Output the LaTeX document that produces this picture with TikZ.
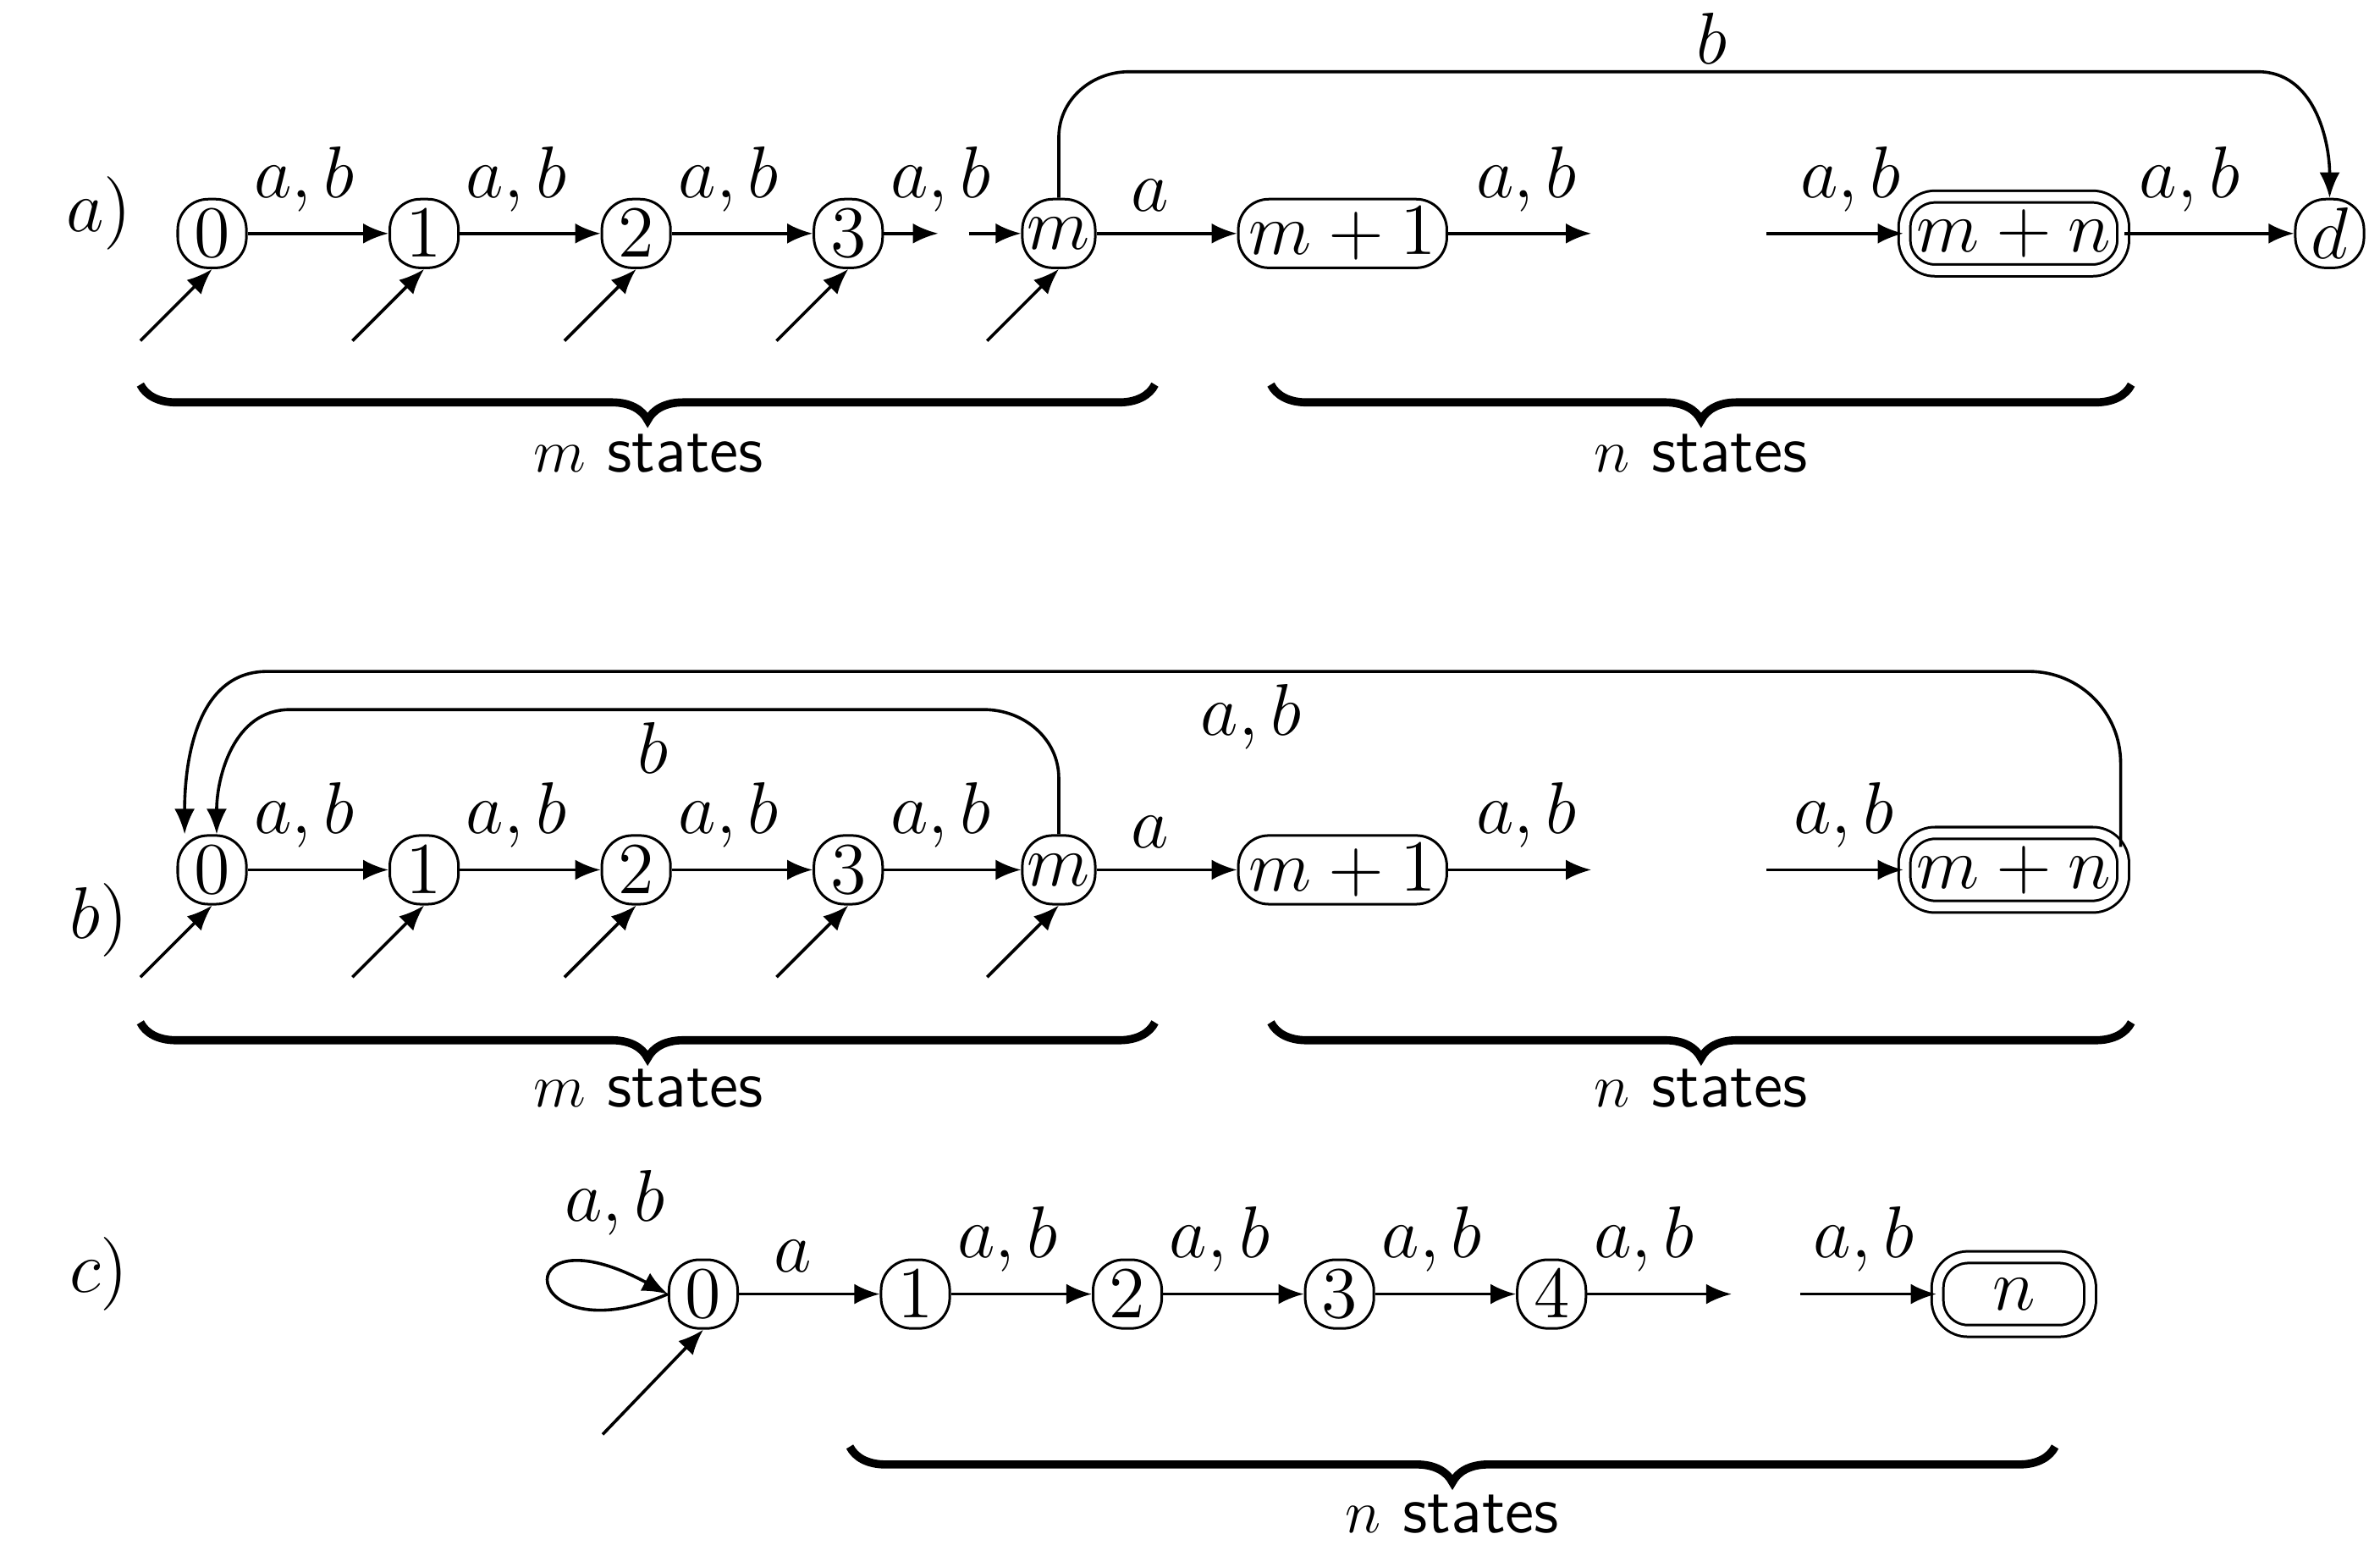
\documentclass[tikz,border=0pt]{standalone}
\usetikzlibrary{arrows.meta,decorations.pathreplacing,calc}
\begin{document}
\begin{tikzpicture}[x=0.3pt,y=-0.3pt,
  every node/.style={font=\fontsize{14}{16}\selectfont},
  st/.style={draw,rectangle,rounded corners=6pt,minimum height=13.5pt,minimum width=13.5pt,inner sep=1pt,line width=0.5pt},
  wide/.style={st,minimum width=41pt},
  acc/.style={st,double,double distance=1.8pt,minimum width=43pt,minimum height=14.5pt},
  tr/.style={-{Latex[length=5pt,width=4pt]},line width=0.6pt},
  lab/.style={anchor=south west,inner sep=1pt,yshift=3pt},
  br/.style={decorate,decoration={brace,mirror,amplitude=7pt},line width=1.6pt},
  sl/.style={font=\fontsize{13}{15}\selectfont\sffamily}]
\useasboundingbox (0,0) rectangle (1560,1012);
% ---- a
\node at (65,140) {$a)$};
\foreach \n/\x in {0/139,1/278,2/417,3/556}{\node[st] (a\n) at (\x,153) {$\n$};}
\node[st] (am) at (694,153) {$m$};
\node[wide] (am1) at (880,153) {$m+1$};
\node[acc] (amn) at (1320,153) {$m+n$};
\node[st] (ad) at (1527,153) {$d$};
\coordinate (ae1) at (615,153); \coordinate (as1) at (635,153);
\coordinate (ae2) at (1043,153); \coordinate (as2) at (1158,153);
\draw[tr] (a0) -- node[lab,pos=0]{$a,b$} (a1);
\draw[tr] (a1) -- node[lab,pos=0]{$a,b$} (a2);
\draw[tr] (a2) -- node[lab,pos=0]{$a,b$} (a3);
\draw[tr] (a3) -- node[lab,pos=0]{$a,b$} (ae1);
\draw[tr] (as1) -- (am);
\draw[tr] (am) -- node[lab,pos=0.2]{$a$} (am1);
\draw[tr] (am1) -- node[lab,pos=0.15]{$a,b$} (ae2);
\draw[tr] (as2) -- node[lab,pos=0.2]{$a,b$} (amn);
\draw[tr] (amn) -- node[lab,pos=0.05]{$a,b$} (ad);
\draw[tr] (am.north) -- (694,90) to[out=90,in=180] (740,47) -- (1480,47) to[out=0,in=90] (ad.north);
\node at (1122,25) {$b$};
\foreach \n in {0,1,2,3,m}{\draw[tr] ($(a\n.south)+(-47,47)$) -- (a\n.south);}
\draw[br] (92,252) -- (757,252);
\node[sl] at (425,297) {$m$ states};
\draw[br] (833,252) -- (1397,252);
\node[sl] at (1115,297) {$n$ states};
% ---- b
\node at (65,603) {$b)$};
\foreach \n/\x in {0/139,1/278,2/417,3/556}{\node[st] (b\n) at (\x,570) {$\n$};}
\node[st] (bm) at (694,570) {$m$};
\node[wide] (bm1) at (880,570) {$m+1$};
\node[acc] (bmn) at (1320,570) {$m+n$};
\coordinate (be2) at (1043,570); \coordinate (bs2) at (1158,570);
\coordinate (bst) at (1390,555);
\draw[tr] (b0) -- node[lab,pos=0]{$a,b$} (b1);
\draw[tr] (b1) -- node[lab,pos=0]{$a,b$} (b2);
\draw[tr] (b2) -- node[lab,pos=0]{$a,b$} (b3);
\draw[tr] (b3) -- node[lab,pos=0]{$a,b$} (bm);
\draw[tr] (bm) -- node[lab,pos=0.2]{$a$} (bm1);
\draw[tr] (bm1) -- node[lab,pos=0.15]{$a,b$} (be2);
\draw[tr] (bs2) -- node[lab,pos=0.15]{$a,b$} (bmn);
\draw[tr] (bm.north) -- (694,510) to[out=90,in=0] (645,465) -- (190,465) to[out=180,in=90] ($(b0.north)+(3,0)$);
\node at (428,490) {$b$};
\draw[tr] (bst) -- (1390,500) to[out=90,in=0] (1330,440) -- (175,440) to[out=180,in=90] ($(b0.north)+(-18,0)$);
\node at (820,470) {$a,b$};
\foreach \n in {0,1,2,3,m}{\draw[tr] ($(b\n.south)+(-47,47)$) -- (b\n.south);}
\draw[br] (92,670) -- (757,670);
\node[sl] at (425,713) {$m$ states};
\draw[br] (833,670) -- (1397,670);
\node[sl] at (1115,713) {$n$ states};
% ---- c
\node at (65,835) {$c)$};
\foreach \n/\x in {0/461,1/600,2/739,3/878,4/1017}{\node[st] (c\n) at (\x,848) {$\n$};}
\node[acc,minimum width=30pt] (cn) at (1320,848) {$n$};
\coordinate (ce) at (1135,848); \coordinate (cs) at (1180,848);
\draw[tr] (c0) -- node[lab,pos=0.2]{$a$} (c1);
\draw[tr] (c1) -- node[lab,pos=0]{$a,b$} (c2);
\draw[tr] (c2) -- node[lab,pos=0]{$a,b$} (c3);
\draw[tr] (c3) -- node[lab,pos=0]{$a,b$} (c4);
\draw[tr] (c4) -- node[lab,pos=0]{$a,b$} (ce);
\draw[tr] (cs) -- node[lab,pos=0.05]{$a,b$} (cn);
\draw[tr] (c0.west) .. controls (340,890) and (330,790) .. (c0.west);
\node at (403,788) {$a,b$};
\draw[tr] (395,940) -- (c0.south);
\draw[br] (557,948) -- (1347,948);
\node[sl] at (952,992) {$n$ states};
\end{tikzpicture}
\end{document}
